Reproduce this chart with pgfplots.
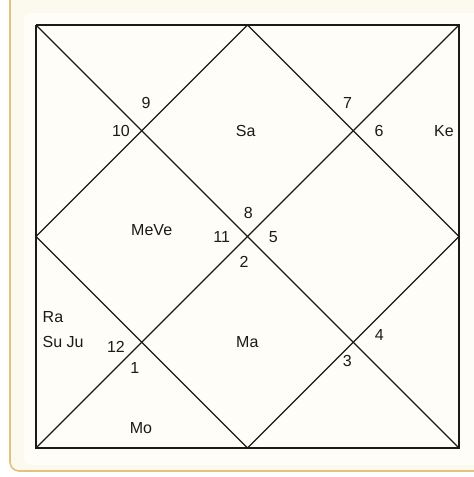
\documentclass[border=0pt]{standalone}
\usepackage{fontspec}
\setmainfont{Liberation Sans}
\usepackage{pgfplots}
\pgfplotsset{compat=1.18}
\definecolor{tanb}{HTML}{E2C27E}
\definecolor{creamb}{HTML}{FCF9EE}
\definecolor{innerb}{HTML}{FEFDF8}
\definecolor{ink}{HTML}{1A1A1A}
\tikzset{lbl/.style={font=\fontsize{16}{18}\selectfont, text=ink, inner sep=0pt}}
\begin{document}
\begin{tikzpicture}
\begin{axis}[
  scale only axis, width=474pt, height=477pt,
  xmin=0, xmax=474, ymin=0, ymax=477, y dir=reverse,
  hide axis, clip=true,
]
% background
\fill[white] (axis cs:0,0) rectangle (axis cs:474,477);
\filldraw[fill=creamb, draw=tanb, line width=1.6pt, rounded corners=9pt]
  (axis cs:490,471) -- (axis cs:10,471) -- (axis cs:10,-20) -- (axis cs:490,-20) -- cycle;
\fill[innerb, rounded corners=6pt] (axis cs:24,13) rectangle (axis cs:480,465);
% chart lines
\addplot[ink, line width=1.3pt] coordinates {(36,25) (459,25) (459,448) (36,448) (36,25)};
\addplot[ink, line width=1.3pt] coordinates {(36,25) (459,448)};
\addplot[ink, line width=1.3pt] coordinates {(459,25) (36,448)};
\addplot[ink, line width=1.3pt] coordinates {(247.5,25) (459,236.5) (247.5,448) (36,236.5) (247.5,25)};
% house numbers
\node[lbl] at (axis cs:146,103) {9};
\node[lbl] at (axis cs:121,131) {10};
\node[lbl] at (axis cs:347.5,103) {7};
\node[lbl] at (axis cs:379,131) {6};
\node[lbl] at (axis cs:248.3,213.3) {8};
\node[lbl] at (axis cs:221.7,236.7) {11};
\node[lbl] at (axis cs:273.3,236.7) {5};
\node[lbl] at (axis cs:244,261.7) {2};
\node[lbl] at (axis cs:116,346.7) {12};
\node[lbl] at (axis cs:134.7,367.7) {1};
\node[lbl] at (axis cs:379.3,335) {4};
\node[lbl] at (axis cs:347.3,360.7) {3};
% planets
\node[lbl] at (axis cs:245.7,130.7) {Sa};
\node[lbl] at (axis cs:444,130.7) {Ke};
\node[lbl] at (axis cs:151.7,230) {MeVe};
\node[lbl, anchor=west] at (axis cs:42.5,316.7) {Ra};
\node[lbl, anchor=west] at (axis cs:42.5,341.7) {Su Ju};
\node[lbl] at (axis cs:247.3,342.3) {Ma};
\node[lbl] at (axis cs:141,428.3) {Mo};
\end{axis}
\end{tikzpicture}
\end{document}
